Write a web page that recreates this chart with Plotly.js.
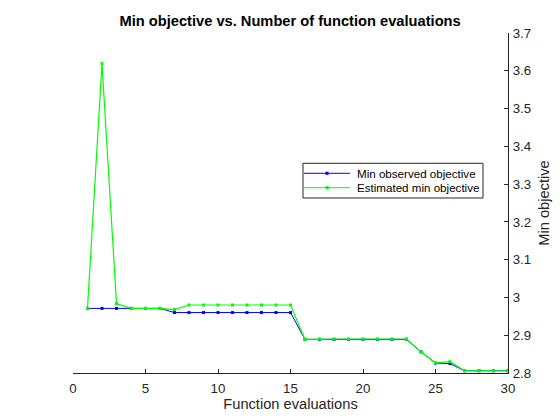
<!DOCTYPE html>
<html><head><meta charset="utf-8">
<script src="https://cdn.plot.ly/plotly-3.0.1.min.js"></script>
<style>html,body{margin:0;padding:0;background:#fff}</style>
</head><body>
<div id="chart" style="width:560px;height:420px"></div>
<script>
const evals = [1,2,3,4,5,6,7,8,9,10,11,12,13,14,15,16,17,18,19,20,21,22,23,24,25,26,27,28,29,30];
const minObserved = [2.971,2.971,2.971,2.971,2.971,2.971,2.960,2.960,2.960,2.960,2.960,2.960,2.960,2.960,2.960,2.889,2.889,2.889,2.889,2.889,2.889,2.889,2.889,2.856,2.826,2.825,2.806,2.806,2.806,2.806];
const estimatedMin = [2.971,3.619,2.984,2.971,2.971,2.971,2.968,2.980,2.980,2.980,2.980,2.980,2.980,2.980,2.980,2.889,2.890,2.890,2.890,2.890,2.890,2.890,2.890,2.856,2.827,2.830,2.806,2.806,2.806,2.806];
const seriesNames = ['Min observed objective','Estimated min objective'];
const seriesColors = ['#0000ff','#00ff00'];
const xTicks = [0,5,10,15,20,25,30];
const yTicks = [2.8,2.9,3,3.1,3.2,3.3,3.4,3.5,3.6,3.7];

const fam = 'Arial, Liberation Sans, sans-serif';
const axisCol = '#262626';

// custom compact legend (MATLAB style), positioned in paper coordinates
const legBox = {x0:0.5287, x1:0.9425, y0:0.5147, y1:0.6168};
const legRows = [0.5874, 0.5450];
const legLine = {x0:0.531, x1:0.6368, xm:0.5839};
const legTextX = 0.6480;
const shapes = [{type:'rect', xref:'paper', yref:'paper', x0:legBox.x0, x1:legBox.x1, y0:legBox.y0, y1:legBox.y1,
  line:{color:axisCol, width:1}, fillcolor:'#fff', layer:'above'}];
const annotations = [];
seriesNames.forEach((nm,i)=>{
  const y = legRows[i];
  shapes.push({type:'line', xref:'paper', yref:'paper', x0:legLine.x0, x1:legLine.x1, y0:y, y1:y,
    line:{color:seriesColors[i], width:1}, layer:'above'});
  shapes.push({type:'rect', xref:'paper', yref:'paper', x0:legLine.xm-0.0035, x1:legLine.xm+0.0035, y0:y-0.0045, y1:y+0.0045,
    line:{width:0}, fillcolor:seriesColors[i], layer:'above'});
  annotations.push({xref:'paper', yref:'paper', x:legTextX, y:y, xanchor:'left', yanchor:'middle', showarrow:false,
    text:nm, font:{family:fam, size:11.6, color:'#000'}});
});

Plotly.newPlot('chart', [
  {x: evals, y: minObserved, name:seriesNames[0], mode:'lines+markers',
   line:{color:seriesColors[0], width:1}, marker:{symbol:'square', size:3, color:seriesColors[0]}},
  {x: evals, y: estimatedMin, name:seriesNames[1], mode:'lines+markers',
   line:{color:seriesColors[1], width:1.2}, marker:{symbol:'square', size:3, color:seriesColors[1]}}
], {
  width:560, height:420,
  margin:{l:73, r:52, t:33, b:47},
  paper_bgcolor:'#fff', plot_bgcolor:'#fff',
  font:{family:fam, size:13.3, color:axisCol},
  showlegend:false,
  shapes: shapes,
  annotations: annotations,
  title:{text:'<b>Min objective vs. Number of function evaluations</b>', x:0.518, xanchor:'center', y:0.95, yanchor:'middle',
    font:{family:fam, size:14.67, color:'#000'}},
  xaxis:{range:[0,30], tickvals:xTicks, ticktext:xTicks.map(String), ticks:'inside', ticklen:4, tickcolor:axisCol,
    showline:true, linecolor:axisCol, linewidth:1, showgrid:false, zeroline:false, mirror:false,
    tickfont:{family:fam, size:13.3, color:axisCol}, ticklabelstandoff:3,
    title:{text:'Function evaluations', font:{family:fam, size:14.67, color:axisCol}, standoff:3}},
  yaxis:{range:[2.8,3.7], side:'right', tickvals:yTicks, ticktext:yTicks.map(String), ticks:'inside', ticklen:4, tickcolor:axisCol,
    showline:true, linecolor:axisCol, linewidth:1, showgrid:false, zeroline:false,
    tickfont:{family:fam, size:13.3, color:axisCol}, ticklabelstandoff:1,
    title:{text:'Min objective', font:{family:fam, size:14.67, color:axisCol}, standoff:8}}
}, {staticPlot:true});
</script>
</body></html>
